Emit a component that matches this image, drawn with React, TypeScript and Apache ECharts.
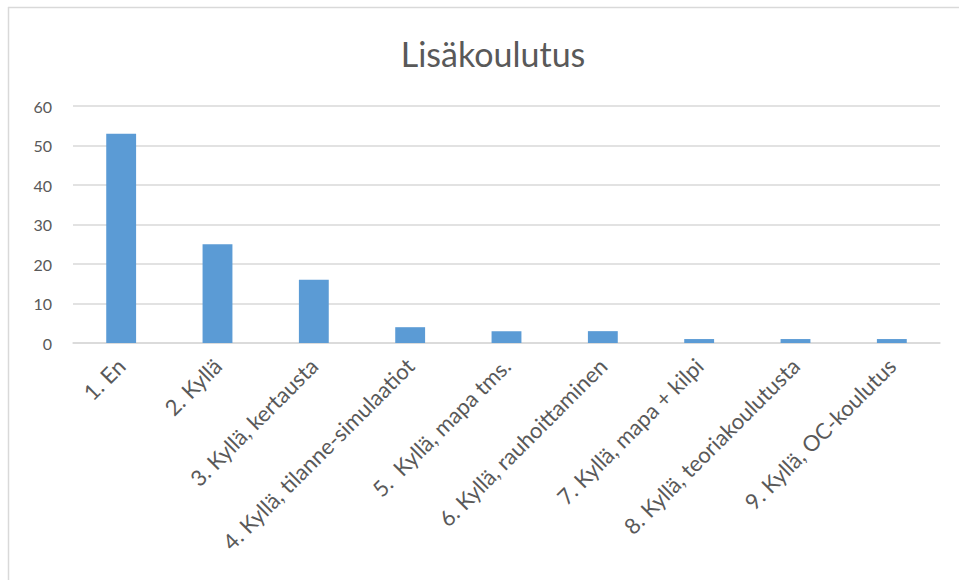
import React, { useEffect, useRef } from "react";
import * as echarts from "echarts";

const categories = [
  "1. En",
  "2. Kyllä",
  "3. Kyllä, kertausta",
  "4. Kyllä, tilanne-simulaatiot",
  "5.  Kyllä, mapa tms.",
  "6. Kyllä, rauhoittaminen",
  "7. Kyllä, mapa + kilpi",
  "8. Kyllä, teoriakoulutusta",
  "9. Kyllä, OC-koulutus",
];
const values = [53, 25, 16, 4, 3, 3, 1, 1, 1];
const titleText = "Lisäkoulutus";

export default function App() {
  const ref = useRef<HTMLDivElement>(null);
  useEffect(() => {
    if (!ref.current) return;
    const chart = echarts.init(ref.current, undefined, { renderer: "svg" });
    const font = "Lato, 'Open Sans', sans-serif";
    chart.setOption({
      animation: false,
      backgroundColor: "#ffffff",
      title: {
        text: titleText,
        left: 488,
        textAlign: "center",
        top: 31,
        textStyle: { fontFamily: font, fontSize: 34, fontWeight: "normal", color: "#595959" },
      },
      graphic: [
        { type: "line", shape: { x1: 8.5, y1: 7, x2: 8.5, y2: 580 }, style: { stroke: "#d9d9d9", lineWidth: 1.5 } },
        { type: "line", shape: { x1: 8, y1: 7.5, x2: 959, y2: 7.5 }, style: { stroke: "#d9d9d9", lineWidth: 1.5 } },
      ],
      grid: { left: 73, right: 19, top: 106, bottom: 237, containLabel: false },
      xAxis: {
        type: "category",
        data: categories,
        axisTick: { show: false },
        axisLine: { lineStyle: { color: "#d9d9d9", width: 1.5 } },
        axisLabel: {
          rotate: 45,
          interval: 0,
          margin: 19,
          fontFamily: font,
          fontSize: 22,
          color: "#595959",
        },
      },
      yAxis: {
        type: "value",
        min: 0,
        max: 60,
        interval: 10,
        axisLine: { show: false },
        axisTick: { show: false },
        splitLine: { lineStyle: { color: "#d9d9d9", width: 1.5 } },
        axisLabel: { fontFamily: font, fontSize: 16, color: "#595959", margin: 21 },
      },
      series: [
        {
          type: "bar",
          data: values,
          barWidth: "31%",
          itemStyle: { color: "#5b9bd5" },
        },
      ],
    });
    return () => chart.dispose();
  }, []);
  return (
    <div
      ref={ref}
      style={{ position: "absolute", left: 0, top: 0, width: 959, height: 580 }}
    />
  );
}
